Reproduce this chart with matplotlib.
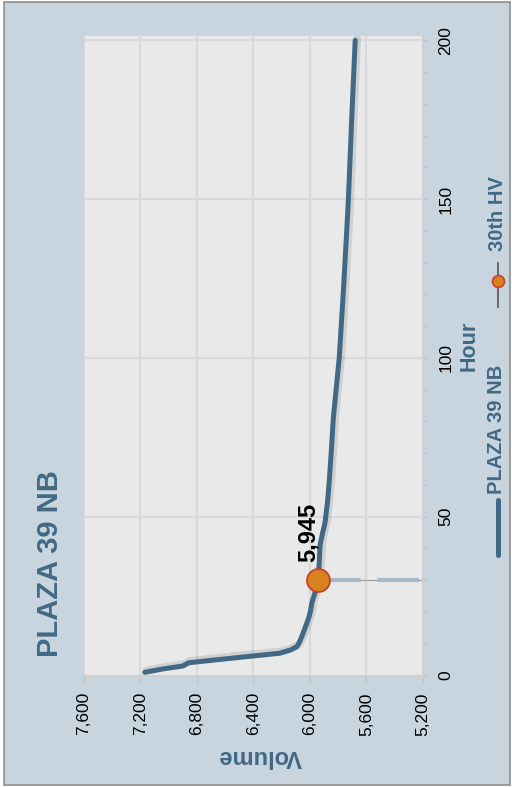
import matplotlib
matplotlib.use("Agg")
import matplotlib.pyplot as plt
import matplotlib.patheffects as pe
from matplotlib.lines import Line2D
from matplotlib.patches import Rectangle
from matplotlib.ticker import MultipleLocator, FuncFormatter

# 数据：按小时排序的交通量（图是旋转过的：横轴是 Volume，纵轴是 Hour）
hours = [1, 2, 3, 4, 5, 6, 7, 8, 9, 10, 12, 15, 18, 20, 23, 26, 30, 35, 41,
         45, 48, 55, 61, 70, 81, 90, 100, 120, 140, 150, 175, 200]
volume = [7170, 7050, 6900, 6860, 6650, 6435, 6215, 6140, 6095, 6080, 6060,
          6035, 6010, 5998, 5986, 5965, 5945, 5935, 5929, 5910, 5894, 5875,
          5864, 5850, 5835, 5815, 5793, 5765, 5740, 5728, 5705, 5680]
hv30_hour = 30
hv30_volume = 5945
title = "PLAZA 39 NB"
series_name = "PLAZA 39 NB"
hv_name = "30th HV"

blue = "#416985"
bg = "#c9d5de"

plt.rcParams["font.family"] = ["Liberation Sans", "DejaVu Sans"]
plt.rcParams["lines.scale_dashes"] = False

W, H = 512, 787
fig = plt.figure(figsize=(W / 100, H / 100), dpi=100, facecolor="white")
fig.patches.append(Rectangle((4 / W, 2 / H), 506 / W, 783 / H, transform=fig.transFigure,
                             facecolor=bg, edgecolor="#8f8f8f", linewidth=1.2, zorder=-5))

ax = fig.add_axes([84 / W, 1 - 675.5 / H, 339 / W, 640 / H])
ax.set_facecolor("#e9e9e9")
ax.set_xlim(7600, 5200)
ax.set_ylim(0, 201.5)

ax.xaxis.set_major_locator(MultipleLocator(400))
ax.xaxis.set_major_formatter(FuncFormatter(lambda v, p: f"{v:,.0f}"))
ax.yaxis.set_major_locator(MultipleLocator(50))
ax.yaxis.set_minor_locator(MultipleLocator(10))
ax.yaxis.tick_right()
ax.grid(True, which="major", color="#d9d9d9", linewidth=1.6)
ax.set_axisbelow(True)
for s in ["top", "left"]:
    ax.spines[s].set_visible(False)
for s in ["bottom", "right"]:
    ax.spines[s].set_color("#cfcfcf")
    ax.spines[s].set_linewidth(1.4)

ax.tick_params(axis="x", which="major", direction="out", length=5, width=1, color="#c4c4c4",
               pad=7, labelsize=12.5, labelrotation=90)
ax.tick_params(axis="y", which="both", direction="out", length=3, width=1, color="#c4c4c4",
               pad=8, labelsize=12.5, labelrotation=90)
for lab in ax.get_xticklabels():
    lab.set_ha("center")
    lab.set_va("top")
for lab in ax.get_yticklabels():
    lab.set_ha("left")
    lab.set_va("center")

# 30th HV 的水平虚线
ax.plot([ax.get_xlim()[1], hv30_volume], [hv30_hour, hv30_hour], color="#9a9a9a", lw=0.8, zorder=2)
ax.plot([ax.get_xlim()[1] + 30, hv30_volume], [hv30_hour, hv30_hour], color="#a7b9c8", lw=3,
        dashes=(30, 12), solid_capstyle="butt", zorder=2)

ax.plot(volume, hours, color=blue, lw=3.6, solid_capstyle="round", zorder=3,
        path_effects=[pe.SimpleLineShadow(offset=(1.5, 1.5), shadow_color="#444444", alpha=0.15, linewidth=5.5),
                      pe.Normal()])
ax.plot([hv30_volume], [hv30_hour], "o", ms=16.5, mfc="#d9801f", mec="#c9402c", mew=1.3, zorder=4)
ax.annotate(f"{hv30_volume:,}", (hv30_volume, hv30_hour), xytext=(-10, 48), textcoords="offset pixels",
            rotation=90, ha="center", va="center", fontsize=17, fontweight="bold", color="black")

fig.text(50 / W, 1 - 564 / H, title, rotation=90, ha="center", va="center",
         fontsize=21, fontweight="bold", color=blue)
fig.text(260 / W, 1 - 757 / H, "Volume", rotation=180, ha="center", va="center",
         fontsize=17, fontweight="bold", color=blue)
fig.text(469 / W, 1 - 346 / H, "Hour", rotation=90, ha="center", va="center",
         fontsize=15.5, fontweight="bold", color=blue)

# 图例（手工画，竖排）
fig.lines.append(Line2D([498 / W, 498 / W], [1 - 555 / H, 1 - 500 / H], transform=fig.transFigure,
                        color=blue, lw=3.6, solid_capstyle="round"))
fig.text(497 / W, 1 - 429 / H, series_name, rotation=90, ha="center", va="center",
         fontsize=14.5, fontweight="bold", color=blue)
fig.lines.append(Line2D([497.7 / W, 497.7 / W], [1 - 307 / H, 1 - 263 / H], transform=fig.transFigure,
                        color="#555555", lw=1.2))
fig.lines.append(Line2D([497.7 / W], [1 - 281 / H], transform=fig.transFigure, marker="o", ms=8.6,
                        mfc="#d9801f", mec="#c9402c", mew=1.2, lw=0))
fig.text(497.5 / W, 1 - 213.5 / H, hv_name, rotation=90, ha="center", va="center",
         fontsize=14.5, fontweight="bold", color=blue)

fig.savefig("out.png", dpi=100, facecolor="white")
